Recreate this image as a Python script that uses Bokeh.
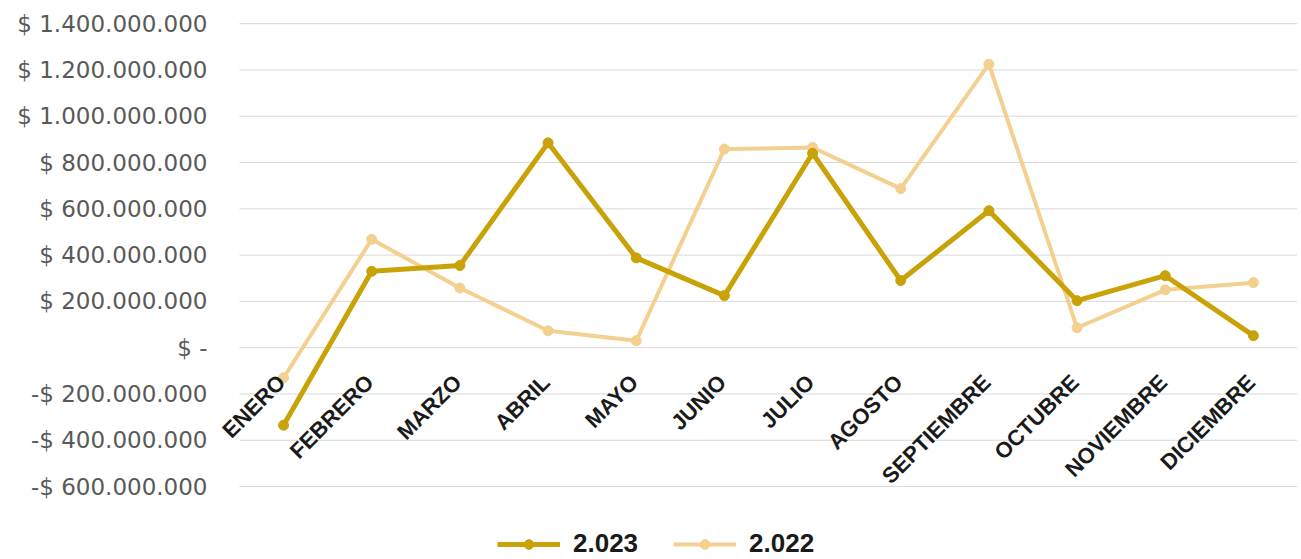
from bokeh.plotting import figure
from bokeh.layouts import column
from bokeh.models import (ColumnDataSource, Range1d, FixedTicker,
                          CustomJSTickFormatter, Legend, LegendItem)
from bokeh.embed import file_html
from bokeh.resources import INLINE
from bokeh.core.properties import value
import math

months = ["ENERO", "FEBRERO", "MARZO", "ABRIL", "MAYO", "JUNIO", "JULIO",
          "AGOSTO", "SEPTIEMBRE", "OCTUBRE", "NOVIEMBRE", "DICIEMBRE"]
v2023 = [-335e6, 330e6, 355e6, 885e6, 388e6, 225e6, 840e6, 290e6, 592e6, 203e6, 311e6, 52e6]
v2022 = [-130e6, 468e6, 258e6, 73e6, 30e6, 858e6, 865e6, 687e6, 1225e6, 86e6, 250e6, 281e6]
y_ticks = [-600e6, -400e6, -200e6, 0, 200e6, 400e6, 600e6, 800e6, 1000e6, 1200e6, 1400e6]
series_names = ["2.023", "2.022"]

C2023 = "#C9A208"
C2022 = "#F3D08F"

n = len(months)
xs = list(range(n))                     # category slots
axis_cross = [0] * n                    # category axis crosses at 0
src = ColumnDataSource(dict(x=xs, month=months, v2023=v2023, v2022=v2022, base=axis_cross))

# grid lines span the category band [-0.5, n-0.5]
grid_src = ColumnDataSource(dict(y=y_ticks, x0=[-0.5] * len(y_ticks), x1=[n - 0.5] * len(y_ticks)))

p = figure(x_range=Range1d(-0.772, n - 0.5),
           y_range=Range1d(y_ticks[0] - 30e6, y_ticks[-1] + 5e6),
           frame_width=1082, frame_height=471,
           min_border_left=215, min_border_right=2, min_border_top=22, min_border_bottom=8,
           x_axis_location=None, output_backend="svg", toolbar_location=None)
p.outline_line_color = None
p.xgrid.visible = False
p.ygrid.visible = False

p.segment(x0="x0", x1="x1", y0="y", y1="y", source=grid_src,
          line_color="#D9D9D9", line_width=1)

ax = p.yaxis[0]
ax.ticker = FixedTicker(ticks=y_ticks)
ax.formatter = CustomJSTickFormatter(code="""
if (tick == 0) return "$ -";
const a = Math.round(Math.abs(tick)).toString().replace(/\\B(?=(\\d{3})+(?!\\d))/g, ".");
return (tick < 0 ? "-$ " : "$ ") + a;
""")
ax.axis_line_color = None
ax.major_tick_line_color = None
ax.minor_tick_line_color = None
ax.major_tick_out = 0
ax.major_tick_in = 0
ax.major_label_standoff = 8
ax.major_label_text_font = "DejaVu Sans"
ax.major_label_text_font_size = "23px"
ax.major_label_text_color = "#595959"

p.line("x", "v2022", source=src, line_color=C2022, line_width=4)
p.scatter("x", "v2022", source=src, size=10, fill_color=C2022, line_color=C2022)
p.line("x", "v2023", source=src, line_color=C2023, line_width=5)
p.scatter("x", "v2023", source=src, size=10, fill_color=C2023, line_color=C2023)

p.text(x="x", y="base", text="month", source=src, angle=math.pi / 4,
       text_align="right", text_baseline="middle", x_offset=-2, y_offset=31,
       text_font=value("Liberation Sans"), text_font_style="bold",
       text_font_size="22px", text_color="#1A1A1A")

# legend strip below the chart (its renderers reuse the series, kept out of view)
lg = figure(width=1299, height=58, x_range=Range1d(100, 101), y_range=Range1d(0, 1),
            min_border=0, x_axis_location=None, y_axis_location=None,
            output_backend="svg", toolbar_location=None)
lg.outline_line_color = None
lg.xgrid.visible = False
lg.ygrid.visible = False
dl23 = lg.line("x", "v2023", source=src, line_color=C2023, line_width=5)
dm23 = lg.scatter("x", "v2023", source=src, size=10, fill_color=C2023, line_color=C2023)
dl22 = lg.line("x", "v2022", source=src, line_color=C2022, line_width=4)
dm22 = lg.scatter("x", "v2022", source=src, size=10, fill_color=C2022, line_color=C2022)

legend = Legend(items=[LegendItem(label=series_names[0], renderers=[dl23, dm23]),
                       LegendItem(label=series_names[1], renderers=[dl22, dm22])],
                orientation="horizontal", location=(282, 0),
                glyph_width=63, glyph_height=24, label_height=24,
                label_standoff=13, spacing=35, padding=0, margin=0,
                border_line_color=None, background_fill_alpha=0,
                label_text_font="Liberation Sans", label_text_font_style="bold",
                label_text_font_size="26px", label_text_color="#1A1A1A")
lg.add_layout(legend, "center")

open("out.html", "w").write(file_html(column(p, lg, spacing=0), INLINE))
